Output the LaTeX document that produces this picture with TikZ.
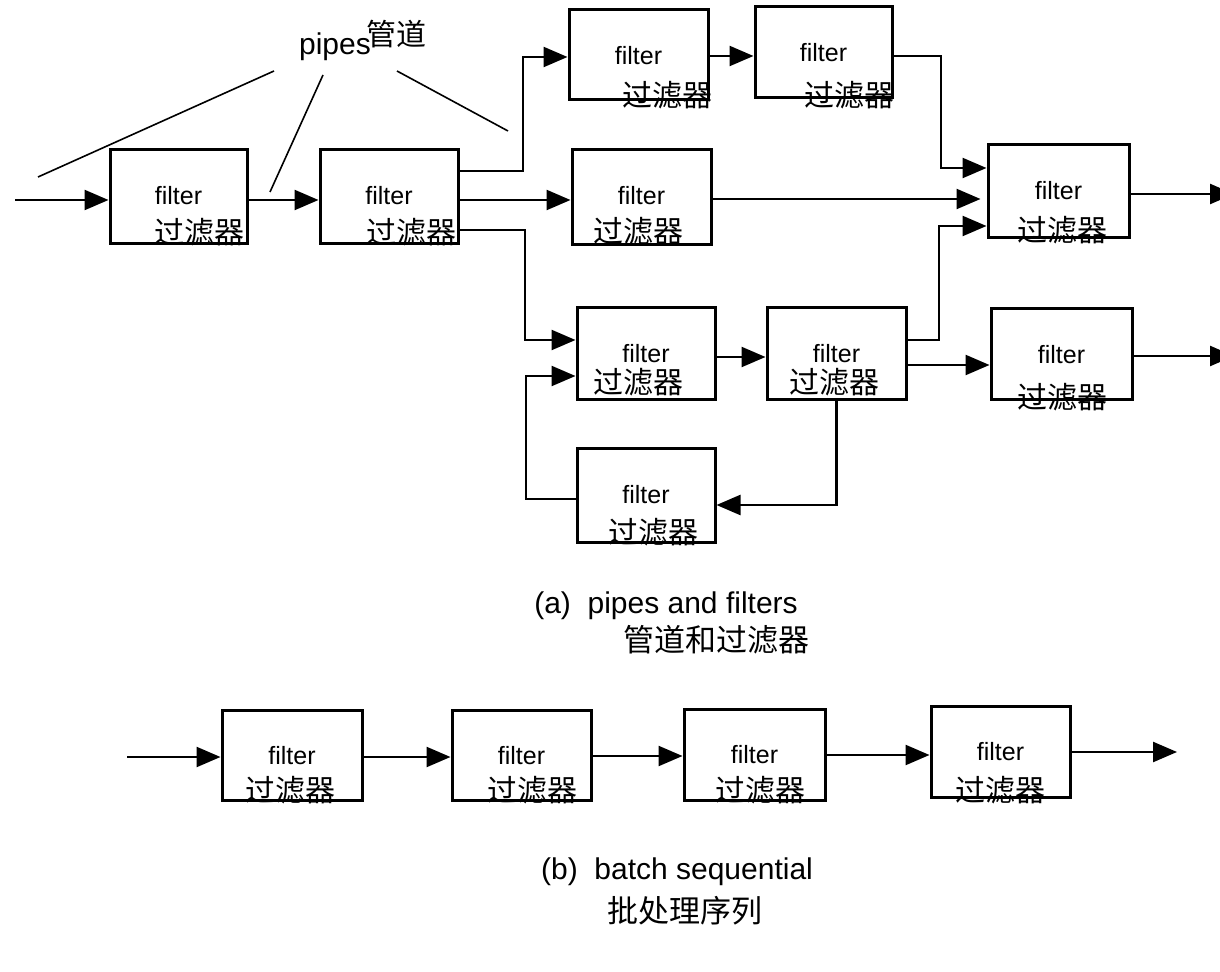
\documentclass[tikz,border=0pt]{standalone}
\usepackage{fontspec}
\setmainfont{Liberation Sans}
\newfontfamily\cjk{Noto Sans CJK SC}
\usetikzlibrary{arrows.meta}

% A filter box: name, x1, y1, x2, y2, position of the Chinese label
\newcommand\filterbox[7]{%
  \node[fbox,minimum width={(#4-#2)*0.5pt},minimum height={(#5-#3)*0.5pt}]
    (#1) at ({(#2+#4)/2},{(#3+#5)/2}) {};
  \node[ftext] (#1-f) at ({(#2+#4)/2},{#3+46}) {filter};
  \node[ctext] (#1-c) at (#6,#7) {过滤器};
}

\begin{document}
\begin{tikzpicture}[x=0.5pt,y=-0.5pt,
  fbox/.style={draw,line width=1.5pt,inner sep=0pt},
  ftext/.style={font=\fontsize{12.5}{14}\selectfont,inner sep=0pt},
  ctext/.style={font=\cjk\fontsize{15}{17}\selectfont,inner sep=0pt},
  captext/.style={font=\fontsize{15}{17}\selectfont,inner sep=0pt},
  capcjk/.style={font=\cjk\fontsize{15.5}{17}\selectfont,inner sep=0pt},
  pipe/.style={line width=1.2pt},
  flow/.style={pipe,-{Triangle[length=12pt,width=10pt]}},
  callout/.style={line width=0.8pt},
]
\useasboundingbox (0,0) rectangle (1220,972);

% ---------- (a) pipes and filters ----------
\filterbox{A1}{110}{150}{247}{244}{199}{232}
\filterbox{A2}{320}{150}{458}{244}{411}{232}
\filterbox{T1}{569}{10}{708}{100}{667}{95}
\filterbox{T2}{755}{7}{892}{98}{849}{95}
\filterbox{M}{572}{150}{711}{245}{638}{231}
\filterbox{R}{988}{145}{1129}{238}{1062}{230}
\filterbox{RR}{991}{309}{1132}{400}{1062}{397}
\filterbox{L1}{577}{308}{715}{400}{638}{382}
\filterbox{L2}{767}{308}{906}{400}{834}{382}
\filterbox{F}{577}{449}{715}{543}{653}{532}

% label for the pipes and its callout lines
\node[font=\fontsize{15}{17}\selectfont,inner sep=0pt] (pipes) at (335,47) {pipes};
\node[ctext] (pipes-c) at (396,34) {管道};
\coordinate (c1s) at (274,71);  \coordinate (c1e) at (38,177);
\coordinate (c2s) at (323,75);  \coordinate (c2e) at (270,192);
\coordinate (c3s) at (397,71);  \coordinate (c3e) at (508,131);
\draw[callout] (c1s) -- (c1e);
\draw[callout] (c2s) -- (c2e);
\draw[callout] (c3s) -- (c3e);

% pipes between the filters
\coordinate (inA) at (15,200);
\draw[flow] (inA) -- (inA -| A1.west);
\draw[flow] (A1.east |- 0,200) -- (A2.west |- 0,200);
\draw[flow] (A2.east |- 0,171) -| (523,57) -- (T1.west |- 0,57);
\draw[flow] (A2.east |- 0,200) -- (M.west |- 0,200);
\draw[flow] (A2.east |- 0,230) -| (525,340) -- (L1.west |- 0,340);
\draw[flow] (T1.east |- 0,56) -- (T2.west |- 0,56);
\draw[flow] (T2.east |- 0,56) -| (941,168) -- (R.west |- 0,168);
\draw[flow,shorten >=3pt] (M.east |- 0,199) -- (R.west |- 0,199);
\draw[flow] (L2.east |- 0,340) -| (939,226) -- (R.west |- 0,226);
\draw[flow] (L2.east |- 0,365) -- (RR.west |- 0,365);
\coordinate (outR) at (1234,194);
\draw[flow] (R.east |- outR) -- (outR);
\coordinate (outRR) at (1234,356);
\draw[flow] (RR.east |- outRR) -- (outRR);
\draw[flow] (L1.east |- 0,357) -- (L2.west |- 0,357);
\draw[flow] (L2.south) |- (F.east |- 0,505);
\draw[flow] (F.west |- 0,499) -| (526,376) -- (L1.west |- 0,376);

\node[captext] (capA) at (666,606) {(a)\ \ pipes and filters};
\node[capcjk] (capA-c) at (716,640) {管道和过滤器};

% ---------- (b) batch sequential ----------
\filterbox{B1}{222}{710}{362}{800}{290}{790}
\filterbox{B2}{452}{710}{591}{800}{532}{790}
\filterbox{B3}{684}{709}{825}{800}{760}{790}
\filterbox{B4}{931}{706}{1070}{797}{1000}{790}

\coordinate (inB) at (127,757);
\draw[flow] (inB) -- (inB -| B1.west);
\draw[flow] (B1.east |- 0,757) -- (B2.west |- 0,757);
\draw[flow] (B2.east |- 0,756) -- (B3.west |- 0,756);
\draw[flow] (B3.east |- 0,755) -- (B4.west |- 0,755);
\coordinate (outB) at (1177,752);
\draw[flow] (B4.east |- outB) -- (outB);

\node[captext] (capB) at (677,872) {(b)\ \ batch sequential};
\node[capcjk] (capB-c) at (685,911) {批处理序列};
\end{tikzpicture}
\end{document}
